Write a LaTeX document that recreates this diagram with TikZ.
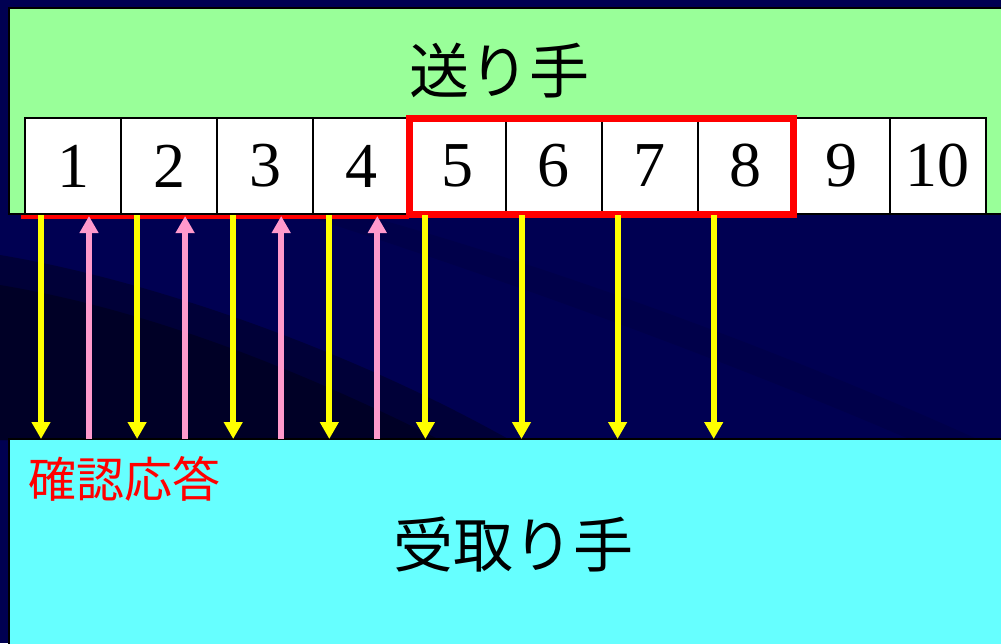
\documentclass[tikz,border=0pt]{standalone}
\usepackage{fontspec}
\setmainfont{Liberation Serif}
\newfontfamily\jpfont{Noto Sans CJK JP}
\usetikzlibrary{arrows.meta}
\definecolor{navybg}{HTML}{000052}
\definecolor{bandA}{HTML}{00004A}
\definecolor{bandB}{HTML}{000038}
\definecolor{bandC}{HTML}{000026}
\definecolor{sendgreen}{HTML}{99FF99}
\definecolor{recvcyan}{HTML}{66FFFF}
\definecolor{ackpink}{HTML}{FF99CC}
\definecolor{segyellow}{HTML}{FFFF00}
\tikzset{
  areabox/.style={draw=black, line width=2pt, inner sep=0pt, outer sep=0pt, anchor=north west},
  cellbox/.style={draw=black, line width=2pt, fill=white, minimum width=96.1pt, minimum height=96pt,
    inner sep=0pt, outer sep=0pt, font=\fontsize{64}{64}\selectfont},
  bigjp/.style={font=\jpfont\fontsize{60}{60}\selectfont, inner sep=0pt},
  ackjp/.style={font=\jpfont\fontsize{48}{48}\selectfont, inner sep=0pt, text=red},
  segarrow/.style={draw=segyellow, line width=6pt, -{Triangle[width=18pt,length=17pt]}},
  ackarrow/.style={draw=ackpink, line width=6pt, -{Triangle[width=18pt,length=17pt]}},
  windowbox/.style={draw=red, line width=7pt},
  underline/.style={draw=red, line width=4pt}
}
\begin{document}
\begin{tikzpicture}[x=1pt,y=-1pt]
\useasboundingbox (0,0) rectangle (1001,643);
\clip (0,0) rectangle (1001,643);
% background
\fill[navybg] (0,0) rectangle (1001,643);
\fill[bandA] (360,214) .. controls (600,280) and (850,380) .. (1001,450) -- (1001,480) .. controls (850,410) and (600,310) .. (300,214) -- cycle;
\fill[bandB] (0,255) .. controls (150,280) and (350,350) .. (510,440) -- (0,440) -- cycle;
\fill[bandC] (0,285) .. controls (150,310) and (300,370) .. (440,440) -- (0,440) -- cycle;
% sender and receiver areas
\node[areabox, fill=sendgreen, minimum width=1010pt, minimum height=206pt] (sendbox) at (9,8) {};
\node[areabox, fill=recvcyan, minimum width=1010pt, minimum height=215pt] (recv) at (9,439) {};
\node[bigjp] (sender) at (499,71) {送り手};
\node[bigjp] (receiver) at (513,545) {受取り手};
\node[ackjp] (ack) at (124,479) {確認応答};
% cells
\foreach \i in {1,...,10}
  \node[cellbox] (c\i) at ({25+96.1*(\i-0.5)},166) {\raisebox{-4pt}{\i}};
% window and acknowledged underline
\draw[underline] ([xshift=-4pt,yshift=-3pt]c1.south west) -- ([yshift=-3pt]c5.south west);
\draw[windowbox] (c5.north west) rectangle (c8.south east);
% arrows
\foreach \i in {1,...,8}
  \draw[segarrow] ([xshift=16pt,yshift=-1pt]c\i.south west) -- ([xshift=16pt]c\i.south west |- recv.north);
\foreach \i in {1,...,4}
  \draw[ackarrow] ([xshift=64pt]c\i.south west |- recv.north) -- ([xshift=64pt,yshift=-2pt]c\i.south west);
\end{tikzpicture}
\end{document}
